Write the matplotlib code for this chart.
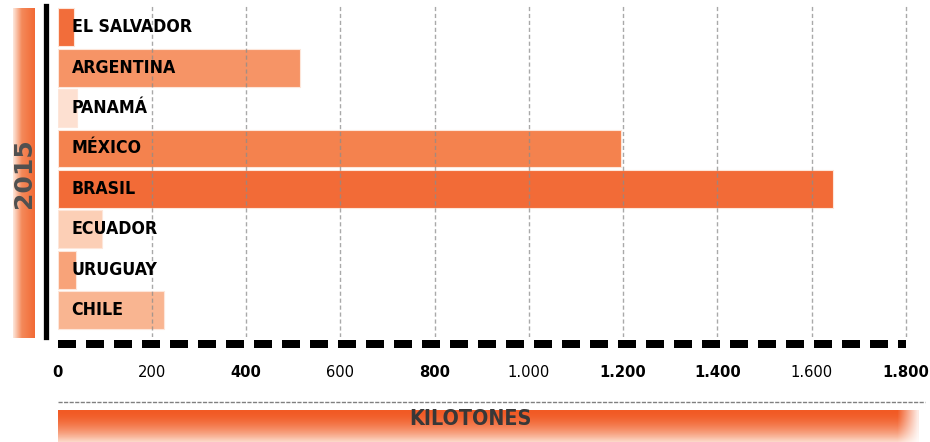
import os
import numpy as np
import matplotlib
matplotlib.use("Agg")
import matplotlib.pyplot as plt
from matplotlib import font_manager as fm
from matplotlib import transforms as mtrans
from matplotlib.lines import Line2D
from matplotlib.colors import to_rgb
from matplotlib.font_manager import FontProperties

# ---------------- data ----------------
countries = ["EL SALVADOR", "ARGENTINA", "PANAMÁ", "MÉXICO", "BRASIL", "ECUADOR", "URUGUAY", "CHILE"]
values = [34, 515, 42, 1195, 1646, 95, 40, 225]
bar_colors = ["#f26d3a", "#f69466", "#fde0d1", "#f4824e", "#f26b37", "#fccfb6", "#f8a379", "#f9b591"]
tick_values = [0, 200, 400, 600, 800, 1000, 1200, 1400, 1600, 1800]
tick_labels = ["0", "200", "400", "600", "800", "1.000", "1.200", "1.400", "1.600", "1.800"]
tick_bold = [True, False, True, False, True, False, True, True, False, True]
year_label = "2015"
unit_label = "KILOTONES"

# ---------------- fonts: look for a condensed face ----------------
files = {os.path.basename(f.fname).lower(): f.fname for f in fm.fontManager.ttflist}

def pick(cands):
    for c in cands:
        if c in files:
            return files[c]
    return None

bold_file = pick(["notosans-extracondensedbold.ttf", "liberationsansnarrow-bold.ttf",
                  "dejavusanscondensed-bold.ttf", "notosans-condensedbold.ttf",
                  "opensans-condbold.ttf"])
reg_file = pick(["notosans-extracondensed.ttf", "liberationsansnarrow-regular.ttf",
                 "dejavusanscondensed.ttf", "notosans-condensed.ttf",
                 "opensans-condlight.ttf"])

def fp_bold(size):
    if bold_file:
        return FontProperties(fname=bold_file, size=size)
    return FontProperties(family="DejaVu Sans", weight="bold", stretch="condensed", size=size)

def fp_reg(size):
    if reg_file:
        return FontProperties(fname=reg_file, size=size)
    return FontProperties(family="DejaVu Sans", weight="normal", stretch="condensed", size=size)

W, H = 930, 442
fig = plt.figure(figsize=(W / 100, H / 100), dpi=100)
fig.patch.set_facecolor("white")
renderer = fig.canvas.get_renderer()

def fit_size(text, fp_func, target_px, max_size):
    t = fig.text(0, 0, text, fontproperties=fp_func(10))
    w = t.get_window_extent(renderer).width
    t.remove()
    return min(max_size, 10 * target_px / max(w, 1))

def fx(px):
    return px / W

def fy(py):
    return 1 - py / H

# ---------------- main axes ----------------
x0, x1800 = 57.5, 906.0
scale = (x1800 - x0) / 1800.0
right_px = 920.0
ax = fig.add_axes([fx(x0), fy(337), (right_px - x0) / W, (337 - 6) / H])
ax.set_xlim(0, (right_px - x0) / scale)
ax.set_ylim(7.67, -0.53)
ax.set_facecolor("none")

ypos = np.arange(len(countries))
ax.barh(ypos, values, height=0.94, color=bar_colors, edgecolor="#fde6da",
        linewidth=0.8, zorder=2)

for t in tick_values[1:]:
    ax.axvline(t, color="#8c8c8c", lw=1.0, ls=(0, (3, 2)), alpha=0.75, zorder=3)

for s in ["top", "right", "bottom"]:
    ax.spines[s].set_visible(False)
ax.spines["left"].set_position(("outward", 8.6))
ax.spines["left"].set_linewidth(3.8)
ax.spines["left"].set_color("black")
ax.tick_params(left=False, labelleft=False)

tick_size = fit_size("1.000", fp_bold, 47, 20)
ax.set_xticks(tick_values)
ax.set_xticklabels(tick_labels)
ax.tick_params(axis="x", length=0, pad=20)
for lab, b in zip(ax.get_xticklabels(), tick_bold):
    lab.set_fontproperties(fp_bold(tick_size) if b else fp_reg(tick_size))
    lab.set_color("black")

# country labels
name_size = fit_size("EL SALVADOR", fp_bold, 120, 22)
off = mtrans.offset_copy(ax.transData, fig=fig, x=14, y=0, units="dots")
for i, name in enumerate(countries):
    ax.text(0, i, name, transform=off, ha="left", va="center",
            fontproperties=fp_bold(name_size), color="black", zorder=4)

# dashed black baseline
blend = mtrans.blended_transform_factory(ax.transData, ax.transAxes)
ax.plot([0, 1800], [-(344 - 337) / 331.0] * 2, transform=blend, clip_on=False,
        color="black", lw=5.76, dashes=(2.25, 1.25), dash_capstyle="butt", zorder=3)

# ---------------- left year band ----------------
bax = fig.add_axes([fx(12.5), fy(338), (34 - 12.5) / W, (338 - 8) / H])
c_light = np.array(to_rgb("#fde8dc"))
c_mid = np.array(to_rgb("#f4895a"))
c_dark = np.array(to_rgb("#f26a35"))
xs = np.linspace(0, 1, 60)
grad = np.zeros((2, 60, 3))
for j, v in enumerate(xs):
    if v < 0.4:
        c = c_light + (c_mid - c_light) * (v / 0.4)
    else:
        c = c_mid + (c_dark - c_mid) * ((v - 0.4) / 0.6)
    grad[:, j, :] = c
bax.imshow(grad, aspect="auto", extent=[0, 1, 0, 1], interpolation="bilinear")
bax.set_xlim(0, 1)
bax.set_ylim(0, 1)
bax.axis("off")
bax.text(0.52, 0.5, year_label, rotation=90, ha="center", va="center",
         fontsize=18, fontweight="bold", color="#505050", family="DejaVu Sans")

# ---------------- bottom unit band ----------------
fig.add_artist(Line2D([fx(58), fx(925)], [fy(402), fy(402)], color="#808080",
                      lw=1.0, ls=(0, (3, 1))))
kax = fig.add_axes([fx(58), 0, (918 - 58) / W, (442 - 410) / H])
top_c = np.array(to_rgb("#f15a24"))
bot_c = np.array(to_rgb("#fcd9c8"))
nh, nw = 40, 300
img = np.zeros((nh, nw, 3))
for r in range(nh):
    f = (r / (nh - 1)) ** 1.8
    img[r, :, :] = top_c + (bot_c - top_c) * f
fade = np.clip((np.arange(nw) - (nw - 8)) / 8.0, 0, 1)
img = img * (1 - fade[None, :, None]) + np.ones(3) * fade[None, :, None]
kax.imshow(img, aspect="auto", extent=[0, 1, 0, 1], interpolation="bilinear")
kax.set_xlim(0, 1)
kax.set_ylim(0, 1)
kax.axis("off")
unit_size = fit_size(unit_label, fp_bold, 122, 26)
fig.text(fx(470), fy(409), unit_label, ha="center", va="top",
         fontproperties=fp_bold(unit_size), color="#383838", zorder=5)

fig.savefig("out.png", dpi=100, facecolor="white")
